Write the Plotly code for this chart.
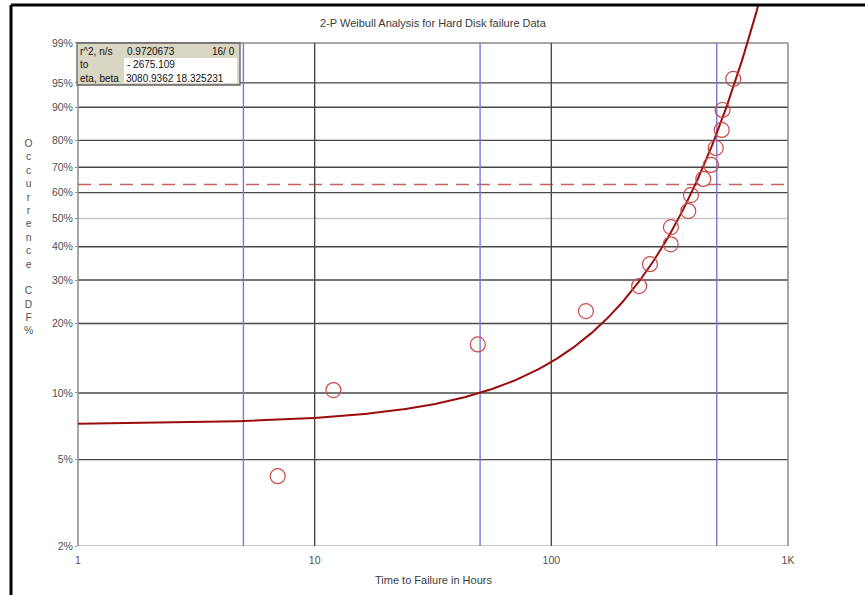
import numpy as np
import plotly.graph_objects as go

# ---------------- data ----------------
fail_hours = [6.98, 12.0, 48.9, 140, 235, 261, 319.5, 320, 379, 389, 438.6, 472.7, 495, 524.7, 529, 587]
fail_cdf_pct = [4.2, 10.3, 16.3, 22.5, 28.4, 34.5, 40.8, 46.8, 52.8, 59.0, 65.4, 70.9, 77.3, 83.5, 89.3, 95.6]

# fitted parameters shown in the chart's box
r2 = "0.9720673"
n_s = "16/ 0"
t0 = -2675.109
eta = 3080.9362
beta = 18.325231

y_tick_pct = [2, 5, 10, 20, 30, 40, 50, 60, 70, 80, 90, 95, 99]
y_tick_text = ["2%", "5%", "10%", "20%", "30%", "40%", "50%", "60%", "70%", "80%", "90%", "95%", "99%"]
x_tick_vals = [1, 10, 100, 1000]
x_tick_text = ["1", "10", "100", "1K"]
x_black_grid = [10, 100]
x_blue_grid = [5, 50, 500]

# ---------------- helpers ----------------
def wb(p_pct):
    p = np.asarray(p_pct, dtype=float) / 100.0
    return np.log(-np.log(1.0 - p))

W, H = 865, 595
L, R, T, B = 78, 77, 5, 49
PW, PH = W - L - R, H - T - B
px_per_unit = 92.65
y_bot = float(wb(2))
y_top = y_bot + PH / px_per_unit
y99 = float(wb(99))

def pxX(px):
    return (px - L) / PW

def pxY(py):
    return (H - B - py) / PH

# fitted curve from the displayed parameters
t_curve = np.logspace(0, 3, 800)
w_curve = beta * np.log((t_curve - t0) / eta)

fig = go.Figure()

fig.add_trace(go.Scatter(
    x=t_curve, y=w_curve, mode="lines",
    line=dict(color="#9b0d0d", width=2), hoverinfo="skip", showlegend=False))

fig.add_trace(go.Scatter(
    x=fail_hours, y=wb(fail_cdf_pct), mode="markers",
    marker=dict(symbol="circle-open", size=15, color="#c84a4a", line=dict(width=1.2)),
    showlegend=False, cliponaxis=False))

shapes = []
# horizontal grid
for p in y_tick_pct:
    if p == 50:
        col, wd = "#c8c8c8", 1.5
    elif p == 2:
        col, wd = "#c8c8c8", 2
    elif p == 99:
        col, wd = "#8a8a8a", 1.5
    else:
        col, wd = "#484848", 1.4
    shapes.append(dict(type="line", xref="paper", yref="y", x0=0, x1=1,
                       y0=float(wb(p)), y1=float(wb(p)), line=dict(color=col, width=wd), layer="below"))
# vertical grid
for v in x_black_grid:
    shapes.append(dict(type="line", xref="x", yref="y", x0=v, x1=v,
                       y0=y_bot, y1=y99, line=dict(color="#484848", width=1.4), layer="below"))
for v in x_blue_grid:
    shapes.append(dict(type="line", xref="x", yref="y", x0=v, x1=v,
                       y0=y_bot, y1=y99, line=dict(color="#7878d8", width=1.4), layer="below"))
# borders
shapes.append(dict(type="line", xref="paper", yref="y", x0=0, x1=0, y0=y_bot, y1=y99,
                   line=dict(color="#8a8a8a", width=1.5), layer="below"))
shapes.append(dict(type="line", xref="paper", yref="y", x0=1, x1=1, y0=y_bot, y1=y99,
                   line=dict(color="#8a8a8a", width=1.5), layer="below"))
# 63.2% dashed line
shapes.append(dict(type="line", xref="paper", yref="y", x0=0, x1=1, y0=0, y1=0,
                   line=dict(color="#c86060", width=1.6, dash="13px,8px"), layer="below"))

# info box
bx0, bx1, by0, by1 = 77, 240, 43, 85
shapes.append(dict(type="rect", xref="paper", yref="paper", x0=pxX(bx0), x1=pxX(bx1),
                   y0=pxY(by1), y1=pxY(by0), fillcolor="#d9d6c4", line=dict(width=0), layer="above"))
shapes.append(dict(type="rect", xref="paper", yref="paper", x0=pxX(124), x1=pxX(237),
                   y0=pxY(83), y1=pxY(58), fillcolor="#ffffff", line=dict(width=0), layer="above"))
shapes.append(dict(type="rect", xref="paper", yref="paper", x0=pxX(bx0), x1=pxX(bx1),
                   y0=pxY(by1), y1=pxY(by0), fillcolor="rgba(0,0,0,0)",
                   line=dict(color="#606060", width=1.3), layer="above"))

# outer frame (top and left)
shapes.append(dict(type="line", xref="paper", yref="paper", x0=pxX(11), x1=pxX(866), y0=pxY(5), y1=pxY(5),
                   line=dict(color="#000000", width=3), layer="above"))
shapes.append(dict(type="line", xref="paper", yref="paper", x0=pxX(11), x1=pxX(11), y0=pxY(5), y1=pxY(596),
                   line=dict(color="#000000", width=3), layer="above"))

FONT = "Liberation Sans"
ann = []
ann.append(dict(text="2-P Weibull Analysis for Hard Disk failure Data", xref="paper", yref="paper",
                x=0.5, y=pxY(23), xanchor="center", yanchor="middle", showarrow=False,
                font=dict(family=FONT, size=11, color="#3a3a3a")))
ann.append(dict(text="Time to Failure in Hours", xref="paper", yref="paper",
                x=0.5, y=pxY(580), xanchor="center", yanchor="middle", showarrow=False,
                font=dict(family=FONT, size=11, color="#3a3a3a")))
ann.append(dict(text="<br>".join(list("Occurrence") + [" "] + list("CDF%")), xref="paper", yref="paper",
                x=pxX(28), y=pxY(237), xanchor="center", yanchor="middle", showarrow=False, align="center",
                font=dict(family=FONT, size=10.3, color="#505050")))

def box_text(txt, px, py, anchor="left"):
    ann.append(dict(text=txt, xref="paper", yref="paper", x=pxX(px), y=pxY(py), xanchor=anchor,
                    yanchor="middle", showarrow=False, font=dict(family=FONT, size=10, color="#111111")))

box_text("r^2, n/s", 78, 51.5)
box_text(r2, 125, 51.5)
box_text(n_s, 237, 51.5, "right")
box_text("to", 78, 65)
box_text("- %.3f" % abs(t0), 125, 65)
box_text("eta, beta", 78, 79)
box_text("%.4f %.6f" % (eta, beta), 124, 79)

fig.update_layout(
    width=W, height=H, autosize=False,
    margin=dict(l=L, r=R, t=T, b=B, pad=0),
    paper_bgcolor="#ffffff", plot_bgcolor="rgba(0,0,0,0)",
    shapes=shapes, annotations=ann, showlegend=False,
    xaxis=dict(type="log", range=[0, 3], showgrid=False, zeroline=False, showline=False,
               tickvals=x_tick_vals, ticktext=x_tick_text, ticks="", ticklabelstandoff=6,
               tickfont=dict(family=FONT, size=10.5, color="#505050")),
    yaxis=dict(range=[y_bot, y_top], showgrid=False, zeroline=False, showline=False,
               tickvals=[float(v) for v in wb(y_tick_pct)], ticktext=y_tick_text,
               ticks="outside", ticklen=2, tickcolor="#8a8a8a",
               tickfont=dict(family=FONT, size=10.5, color="#505050")),
)

fig.write_html("out.html", config={"displayModeBar": False},
               post_script="document.body.style.margin='0';document.body.style.overflow='hidden';")
